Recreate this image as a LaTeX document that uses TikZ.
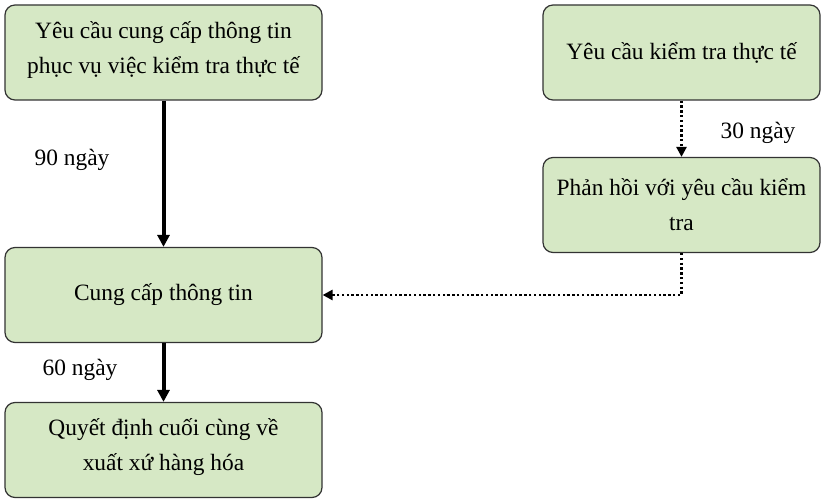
\documentclass[tikz,border=0pt]{standalone}
\usepackage{fontspec}
\setmainfont{Liberation Serif}
\usetikzlibrary{arrows.meta}
\definecolor{boxgreen}{RGB}{214,232,197}

\begin{document}
\begin{tikzpicture}[x=0.5pt,y=-0.5pt,
        box node/.style={rectangle,rounded corners=5pt,draw=black!80,fill=boxgreen,line width=0.6pt,
          inner sep=0pt,minimum height=47.5pt,align=center,font=\fontsize{11.7}{17.5}\selectfont},
        wide box/.style={box node,minimum width=158.5pt},
        narrow box/.style={box node,minimum width=138.5pt},
        day label/.style={font=\fontsize{11.7}{14}\selectfont},
        solid arrow/.style={-{Triangle[width=6pt,length=6pt]},line width=2pt},
        dot arrow/.style={-{Triangle[width=5pt,length=5pt]},line width=1.3pt,dash pattern=on 1.2pt off 1.2pt}]

        \useasboundingbox (0,0) rectangle (824,501);

        \node[wide box] (req) at (163.5,52.5) {Yêu cầu cung cấp thông tin\\phục vụ việc kiểm tra thực tế\\[-12.5pt]};
        \node[narrow box] (check) at (681.5,52.5) {Yêu cầu kiểm tra thực tế};
        \node[narrow box] (reply) at (681.5,205) {Phản hồi với yêu cầu kiểm\\tra};
        \node[wide box] (supply) at (163.5,295) {Cung cấp thông tin};
        \node[wide box] (decide) at (163.5,450) {Quyết định cuối cùng về\\xuất xứ hàng hóa\\[-12.5pt]};

        \node[day label] (d90) at (72,160) {90 ngày};
        \node[day label] (d30) at (758,133) {30 ngày};
        \node[day label] (d60) at (80,370) {60 ngày};

        \path[solid arrow]
        (req) edge (supply)
        (supply) edge (decide);

        \path[dot arrow] (check) edge (reply);
        \draw[dot arrow] (reply.south) |- (supply.east);
      \end{tikzpicture}
\end{document}
